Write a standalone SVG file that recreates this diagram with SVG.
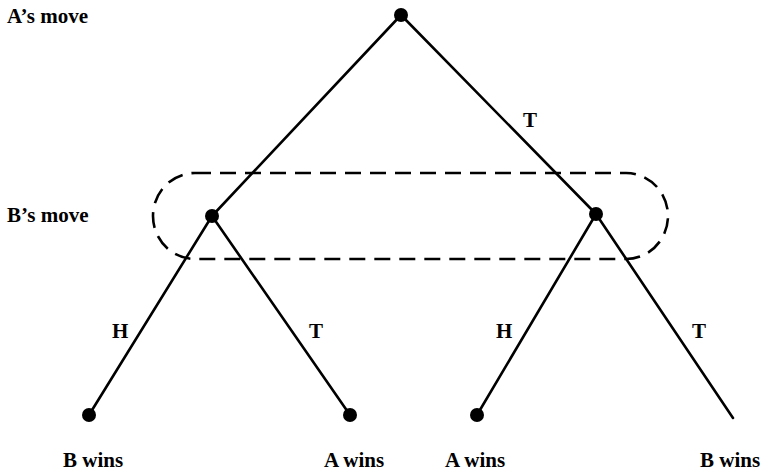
<svg xmlns="http://www.w3.org/2000/svg" width="769" height="472" viewBox="0 0 769 472">
<style>
.edge{stroke:#000;stroke-width:2.6;fill:none;stroke-linecap:round}
.dot{fill:#000}
.lbl{font-family:"Liberation Serif","Times New Roman",serif;font-weight:bold;font-size:21px;fill:#000}
.info{fill:none;stroke:#000;stroke-width:2.6;stroke-dasharray:16 9}
</style>
<rect width="769" height="472" fill="#fff"/>
<text class="lbl" x="7" y="23">A’s move</text>
<text class="lbl" x="7" y="222">B’s move</text>
<g id="connectors">
<line class="edge" x1="401" y1="15" x2="212" y2="216"/>
<line class="edge" x1="401" y1="15" x2="596" y2="214"/>
<line class="edge" x1="212" y1="216" x2="89" y2="415"/>
<line class="edge" x1="212" y1="216" x2="350" y2="415"/>
<line class="edge" x1="596" y1="214" x2="477" y2="415"/>
<line class="edge" x1="596" y1="214" x2="733" y2="418"/>
<text class="lbl" x="523" y="127">T</text>
<text class="lbl" x="112" y="338">H</text>
<text class="lbl" x="309" y="338">T</text>
<text class="lbl" x="496" y="338">H</text>
<text class="lbl" x="692" y="338">T</text>
</g>
<g id="info-set"><rect class="info" x="153" y="173" width="515" height="86" rx="42" ry="43"/></g>
<g id="root"><circle class="dot" cx="401" cy="15" r="7"/></g>
<g id="b-left"><circle class="dot" cx="212" cy="216" r="7"/></g>
<g id="b-right"><circle class="dot" cx="596" cy="214" r="7"/></g>
<g id="leaf1"><circle class="dot" cx="89" cy="415" r="7"/><text class="lbl" x="63" y="467">B wins</text></g>
<g id="leaf2"><circle class="dot" cx="350" cy="415" r="7"/><text class="lbl" x="324" y="467">A wins</text></g>
<g id="leaf3"><circle class="dot" cx="477" cy="415" r="7"/><text class="lbl" x="445" y="467">A wins</text></g>
<g id="leaf4"><text class="lbl" x="700" y="467">B wins</text></g>
</svg>
